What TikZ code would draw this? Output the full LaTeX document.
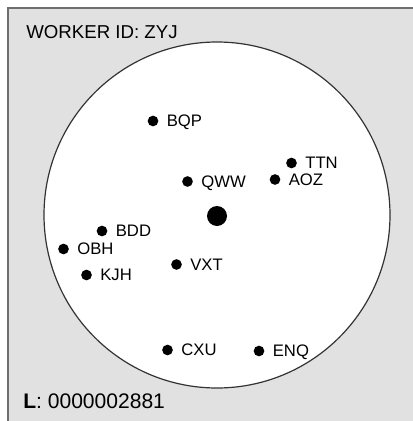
\documentclass[tikz,border=0pt]{standalone}
\usepackage{fontspec}
\setmainfont{Liberation Sans}
\usetikzlibrary{positioning}
\definecolor{panelgray}{HTML}{E1E1E1}
\definecolor{framegray}{HTML}{6E6E6E}
\tikzset{
    every node/.style={font=\fontsize{12.5}{15}\selectfont},
    worker/.style={circle,fill=black,inner sep=0pt,minimum size=8pt},
    centre/.style={circle,fill=black,inner sep=0pt,minimum size=15pt},
    tag/.style={anchor=west,inner sep=0pt,text depth=0pt,right=6pt of #1}
}

\begin{document}
\begin{tikzpicture}[x=0.75pt,y=-0.75pt]
    \clip (0,0) rectangle (413,421);
    \useasboundingbox (0,0) rectangle (413,421);
    % panel and field
    \draw[fill=panelgray,draw=framegray,line width=1.5pt] (8,8) rectangle (430,440);
    \draw[fill=white,draw=black!80,line width=0.9pt] (217,215) circle (173);
    \node[anchor=base west,inner sep=0pt,font=\fontsize{14}{17}\selectfont] (header) at (26,38) {WORKER ID: ZYJ};
    \node[anchor=base west,inner sep=0pt,font=\fontsize{15.8}{19}\selectfont] (footer) at (23,408) {\textbf{L}: 0000002881};
    % centre
    \node[centre] (ctr) at (217,216) {};
    % workers
    \node[worker] (bqp) at (153,121) {};
    \node[tag=bqp] (bqplbl) {BQP};
    \node[worker] (ttn) at (291.5,163) {};
    \node[tag=ttn] (ttnlbl) {TTN};
    \node[worker] (aoz) at (275,179.5) {};
    \node[tag=aoz] (aozlbl) {AOZ};
    \node[worker] (qww) at (187.5,181.5) {};
    \node[tag=qww] (qwwlbl) {QWW};
    \node[worker] (bdd) at (102,231) {};
    \node[tag=bdd] (bddlbl) {BDD};
    \node[worker] (obh) at (63.5,249) {};
    \node[tag=obh] (obhlbl) {OBH};
    \node[worker] (kjh) at (86.5,275) {};
    \node[tag=kjh] (kjhlbl) {KJH};
    \node[worker] (vxt) at (176.5,264.5) {};
    \node[tag=vxt] (vxtlbl) {VXT};
    \node[worker] (cxu) at (167.5,350) {};
    \node[tag=cxu] (cxulbl) {CXU};
    \node[worker] (enq) at (259,351) {};
    \node[tag=enq] (enqlbl) {ENQ};
\end{tikzpicture}
\end{document}
